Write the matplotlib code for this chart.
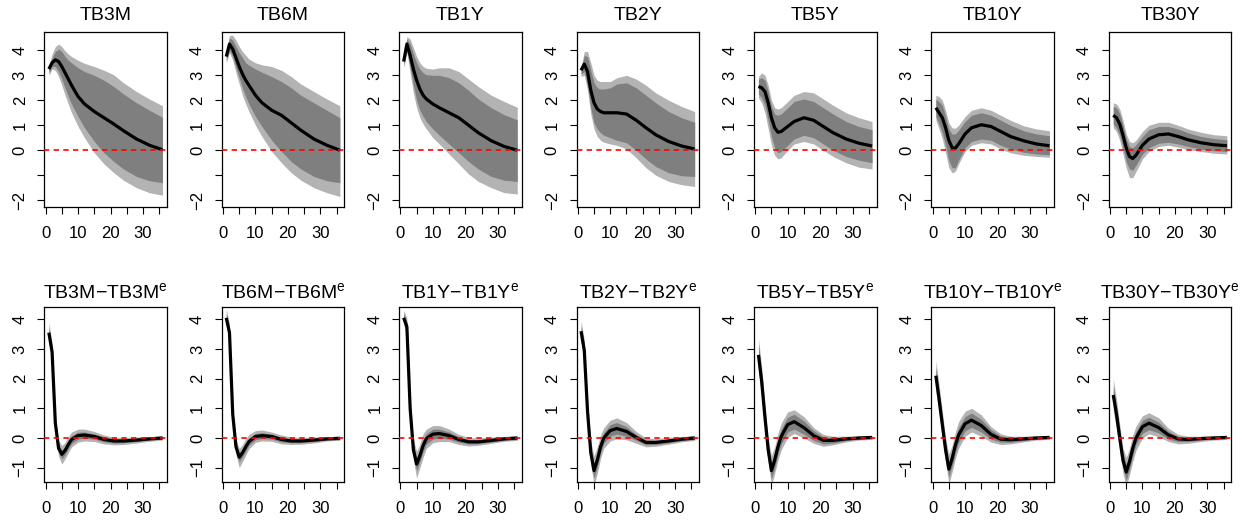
import matplotlib.pyplot as plt

plt.rcParams['font.family'] = ['Liberation Sans', 'DejaVu Sans']
plt.rcParams['mathtext.fontset'] = 'custom'
plt.rcParams['mathtext.rm'] = 'Liberation Sans'
plt.rcParams['mathtext.it'] = 'Liberation Sans:italic'

# impulse response horizon (months) at which responses are stored
lags = [1, 2, 3, 4, 5, 6, 7, 8, 10, 12, 15, 18, 21, 24, 28, 32, 36]

names = ["TB3M", "TB6M", "TB1Y", "TB2Y", "TB5Y", "TB10Y", "TB30Y"]

# --- responses of yield levels: median and 68% / 90% bands ---
level_mean = {
    "TB3M": [3.25, 3.5, 3.62, 3.55, 3.35, 3.1, 2.85, 2.6, 2.15, 1.85, 1.55, 1.3, 1.05, 0.78, 0.45, 0.2, 0.02],
    "TB6M": [3.75, 4.25, 4.05, 3.7, 3.35, 3.05, 2.8, 2.6, 2.2, 1.9, 1.6, 1.4, 1.1, 0.8, 0.45, 0.2, 0.0],
    "TB1Y": [3.55, 4.25, 3.8, 3.25, 2.8, 2.45, 2.2, 2.05, 1.85, 1.7, 1.5, 1.3, 1.0, 0.7, 0.38, 0.15, 0.0],
    "TB2Y": [3.2, 3.45, 3.15, 2.4, 1.9, 1.65, 1.55, 1.5, 1.5, 1.5, 1.45, 1.2, 0.9, 0.62, 0.35, 0.17, 0.05],
    "TB5Y": [2.55, 2.5, 2.35, 1.9, 1.3, 0.9, 0.72, 0.75, 0.95, 1.15, 1.3, 1.2, 0.95, 0.7, 0.45, 0.28, 0.17],
    "TB10Y": [1.7, 1.5, 1.3, 0.9, 0.4, 0.1, 0.08, 0.25, 0.65, 0.9, 1.02, 0.95, 0.75, 0.55, 0.38, 0.25, 0.18],
    "TB30Y": [1.4, 1.3, 1.05, 0.6, 0.1, -0.25, -0.33, -0.2, 0.2, 0.45, 0.62, 0.65, 0.55, 0.42, 0.3, 0.22, 0.18],
}
level_hi90 = {
    "TB3M": [3.4, 3.85, 4.15, 4.25, 4.15, 3.98, 3.85, 3.75, 3.6, 3.48, 3.35, 3.2, 3.02, 2.7, 2.35, 2.05, 1.78],
    "TB6M": [4.0, 4.6, 4.6, 4.4, 4.15, 3.95, 3.8, 3.65, 3.5, 3.42, 3.35, 3.2, 2.95, 2.65, 2.35, 2.05, 1.78],
    "TB1Y": [3.8, 4.55, 4.45, 4.1, 3.75, 3.5, 3.35, 3.28, 3.25, 3.3, 3.3, 3.15, 2.85, 2.55, 2.2, 1.95, 1.72],
    "TB2Y": [3.3, 3.95, 3.95, 3.5, 3.0, 2.8, 2.75, 2.75, 2.75, 2.9, 3.0, 2.85, 2.6, 2.3, 2.0, 1.75, 1.55],
    "TB5Y": [2.95, 3.1, 3.0, 2.6, 2.0, 1.7, 1.65, 1.7, 1.95, 2.2, 2.35, 2.3, 2.05, 1.8, 1.5, 1.3, 1.15],
    "TB10Y": [2.2, 2.15, 2.0, 1.6, 1.1, 0.9, 0.88, 1.0, 1.35, 1.6, 1.7, 1.6, 1.4, 1.2, 0.98, 0.85, 0.78],
    "TB30Y": [1.9, 1.85, 1.65, 1.2, 0.65, 0.35, 0.3, 0.4, 0.75, 1.0, 1.12, 1.12, 1.0, 0.85, 0.72, 0.62, 0.58],
}
level_hi68 = {
    "TB3M": [3.35, 3.7, 3.95, 4.05, 3.95, 3.75, 3.6, 3.5, 3.3, 3.15, 3.0, 2.8, 2.55, 2.25, 1.9, 1.6, 1.32],
    "TB6M": [3.9, 4.5, 4.4, 4.15, 3.9, 3.7, 3.5, 3.4, 3.25, 3.12, 2.95, 2.75, 2.5, 2.2, 1.9, 1.6, 1.3],
    "TB1Y": [3.7, 4.45, 4.25, 3.85, 3.5, 3.25, 3.1, 3.02, 3.0, 3.0, 2.9, 2.7, 2.4, 2.05, 1.7, 1.42, 1.22],
    "TB2Y": [3.25, 3.8, 3.75, 3.2, 2.7, 2.5, 2.45, 2.45, 2.5, 2.65, 2.7, 2.5, 2.2, 1.9, 1.55, 1.3, 1.12],
    "TB5Y": [2.85, 2.9, 2.8, 2.35, 1.75, 1.45, 1.4, 1.45, 1.7, 1.95, 2.05, 1.95, 1.7, 1.45, 1.15, 0.95, 0.82],
    "TB10Y": [2.05, 1.95, 1.8, 1.35, 0.85, 0.65, 0.65, 0.8, 1.15, 1.4, 1.5, 1.4, 1.2, 1.0, 0.78, 0.65, 0.58],
    "TB30Y": [1.75, 1.7, 1.45, 1.0, 0.45, 0.15, 0.1, 0.22, 0.55, 0.82, 0.95, 0.95, 0.85, 0.7, 0.55, 0.47, 0.42],
}
level_lo68 = {
    "TB3M": [3.1, 3.35, 3.35, 3.15, 2.85, 2.5, 2.15, 1.85, 1.35, 0.9, 0.35, -0.1, -0.45, -0.75, -1.05, -1.22, -1.3],
    "TB6M": [3.6, 4.0, 3.75, 3.3, 2.9, 2.5, 2.15, 1.85, 1.35, 0.95, 0.4, -0.05, -0.45, -0.75, -1.05, -1.22, -1.3],
    "TB1Y": [3.4, 4.0, 3.3, 2.6, 2.0, 1.6, 1.35, 1.15, 0.85, 0.6, 0.25, -0.1, -0.45, -0.75, -1.05, -1.2, -1.25],
    "TB2Y": [3.05, 3.15, 2.6, 1.7, 1.1, 0.85, 0.7, 0.6, 0.5, 0.4, 0.3, 0.0, -0.35, -0.65, -0.9, -1.02, -1.05],
    "TB5Y": [2.25, 2.1, 1.8, 1.2, 0.55, 0.1, -0.1, -0.05, 0.2, 0.45, 0.6, 0.5, 0.25, 0.0, -0.25, -0.4, -0.5],
    "TB10Y": [1.35, 1.05, 0.7, 0.2, -0.4, -0.7, -0.7, -0.4, 0.1, 0.35, 0.45, 0.4, 0.2, 0.05, -0.08, -0.15, -0.18],
    "TB30Y": [1.05, 0.9, 0.6, 0.1, -0.45, -0.75, -0.8, -0.6, -0.15, 0.1, 0.28, 0.32, 0.25, 0.15, 0.05, -0.02, -0.05],
}
level_lo90 = {
    "TB3M": [3.0, 3.25, 3.2, 2.95, 2.6, 2.2, 1.85, 1.5, 0.95, 0.5, -0.1, -0.55, -0.9, -1.2, -1.5, -1.7, -1.8],
    "TB6M": [3.5, 3.9, 3.6, 3.1, 2.65, 2.2, 1.85, 1.55, 1.0, 0.55, -0.05, -0.5, -0.9, -1.2, -1.5, -1.7, -1.85],
    "TB1Y": [3.3, 3.9, 3.1, 2.3, 1.7, 1.3, 1.05, 0.85, 0.5, 0.25, -0.15, -0.55, -0.95, -1.25, -1.5, -1.7, -1.75],
    "TB2Y": [2.95, 3.0, 2.4, 1.45, 0.85, 0.55, 0.4, 0.32, 0.25, 0.2, 0.05, -0.3, -0.7, -1.0, -1.25, -1.38, -1.45],
    "TB5Y": [2.1, 1.9, 1.5, 0.85, 0.2, -0.2, -0.35, -0.3, 0.0, 0.25, 0.35, 0.25, 0.0, -0.25, -0.5, -0.68, -0.75],
    "TB10Y": [1.2, 0.85, 0.45, -0.1, -0.7, -0.9, -0.85, -0.55, -0.05, 0.2, 0.3, 0.25, 0.05, -0.1, -0.2, -0.25, -0.28],
    "TB30Y": [0.9, 0.75, 0.4, -0.15, -0.7, -1.1, -1.1, -0.85, -0.35, -0.05, 0.15, 0.2, 0.12, 0.03, -0.05, -0.12, -0.15],
}

# --- responses of yield minus expected yield ---
spread_mean = {
    "TB3M": [3.55, 2.9, 0.5, -0.35, -0.55, -0.42, -0.22, -0.05, 0.08, 0.1, 0.05, -0.05, -0.1, -0.1, -0.07, -0.03, 0.0],
    "TB6M": [4.05, 3.55, 0.8, -0.3, -0.65, -0.5, -0.3, -0.12, 0.05, 0.08, 0.05, -0.05, -0.1, -0.1, -0.07, -0.03, -0.01],
    "TB1Y": [4.05, 3.75, 1.0, -0.4, -0.88, -0.6, -0.25, -0.02, 0.13, 0.15, 0.08, -0.05, -0.13, -0.13, -0.08, -0.03, 0.0],
    "TB2Y": [3.6, 2.95, 0.9, -0.5, -1.1, -0.75, -0.3, 0.0, 0.25, 0.32, 0.22, 0.02, -0.15, -0.15, -0.1, -0.04, 0.0],
    "TB5Y": [2.8, 1.9, 0.7, -0.4, -1.1, -0.75, -0.3, 0.05, 0.45, 0.55, 0.35, 0.08, -0.08, -0.08, -0.03, 0.0, 0.02],
    "TB10Y": [2.1, 1.3, 0.45, -0.4, -1.05, -0.7, -0.25, 0.1, 0.48, 0.6, 0.42, 0.12, -0.04, -0.06, -0.03, 0.0, 0.02],
    "TB30Y": [1.45, 0.8, 0.0, -0.75, -1.15, -0.8, -0.35, 0.0, 0.38, 0.5, 0.35, 0.1, -0.03, -0.05, -0.02, 0.0, 0.02],
}
spread_hi90 = {
    "TB3M": [3.9, 3.2, 0.75, -0.1, -0.25, -0.15, 0.05, 0.2, 0.3, 0.3, 0.22, 0.1, 0.02, 0.02, 0.03, 0.05, 0.07],
    "TB6M": [4.35, 3.85, 1.05, -0.05, -0.35, -0.22, -0.02, 0.12, 0.25, 0.27, 0.2, 0.1, 0.03, 0.02, 0.03, 0.04, 0.06],
    "TB1Y": [4.3, 4.05, 1.35, -0.05, -0.45, -0.2, 0.15, 0.3, 0.42, 0.42, 0.3, 0.12, 0.02, 0.0, 0.03, 0.05, 0.08],
    "TB2Y": [3.95, 3.3, 1.25, -0.1, -0.6, -0.3, 0.1, 0.35, 0.6, 0.68, 0.52, 0.22, 0.0, -0.02, 0.02, 0.05, 0.08],
    "TB5Y": [3.35, 2.4, 1.15, 0.0, -0.6, -0.3, 0.15, 0.5, 0.88, 0.95, 0.72, 0.35, 0.12, 0.06, 0.06, 0.07, 0.08],
    "TB10Y": [2.6, 1.8, 0.9, 0.0, -0.55, -0.25, 0.2, 0.55, 0.9, 1.0, 0.78, 0.38, 0.14, 0.06, 0.06, 0.07, 0.08],
    "TB30Y": [2.0, 1.3, 0.45, -0.35, -0.65, -0.35, 0.1, 0.4, 0.75, 0.85, 0.68, 0.33, 0.12, 0.06, 0.06, 0.07, 0.08],
}
spread_hi68 = {
    "TB3M": [3.75, 3.05, 0.62, -0.22, -0.4, -0.28, -0.08, 0.08, 0.2, 0.2, 0.14, 0.03, -0.04, -0.04, -0.02, 0.01, 0.04],
    "TB6M": [4.2, 3.7, 0.92, -0.17, -0.5, -0.36, -0.16, 0.0, 0.15, 0.18, 0.13, 0.03, -0.04, -0.04, -0.02, 0.01, 0.03],
    "TB1Y": [4.2, 3.9, 1.18, -0.22, -0.65, -0.4, -0.05, 0.15, 0.3, 0.3, 0.2, 0.04, -0.05, -0.06, -0.02, 0.01, 0.04],
    "TB2Y": [3.8, 3.15, 1.08, -0.3, -0.85, -0.52, -0.1, 0.18, 0.45, 0.52, 0.38, 0.12, -0.07, -0.08, -0.04, 0.01, 0.04],
    "TB5Y": [3.15, 2.2, 0.98, -0.18, -0.82, -0.5, -0.05, 0.3, 0.7, 0.8, 0.57, 0.25, 0.04, 0.01, 0.03, 0.04, 0.05],
    "TB10Y": [2.4, 1.6, 0.72, -0.18, -0.78, -0.45, 0.0, 0.35, 0.72, 0.84, 0.63, 0.28, 0.07, 0.02, 0.03, 0.04, 0.05],
    "TB30Y": [1.75, 1.1, 0.28, -0.52, -0.88, -0.55, -0.1, 0.22, 0.6, 0.7, 0.53, 0.23, 0.05, 0.01, 0.03, 0.04, 0.05],
}
spread_lo68 = {
    "TB3M": [3.35, 2.75, 0.38, -0.5, -0.7, -0.56, -0.36, -0.18, -0.04, 0.0, -0.04, -0.13, -0.17, -0.16, -0.12, -0.07, -0.04],
    "TB6M": [3.9, 3.4, 0.68, -0.43, -0.8, -0.64, -0.44, -0.24, -0.06, -0.02, -0.04, -0.13, -0.16, -0.16, -0.12, -0.07, -0.05],
    "TB1Y": [3.9, 3.6, 0.82, -0.58, -1.1, -0.8, -0.45, -0.2, -0.04, 0.0, -0.04, -0.14, -0.2, -0.19, -0.14, -0.08, -0.05],
    "TB2Y": [3.4, 2.75, 0.72, -0.7, -1.35, -0.98, -0.5, -0.18, 0.07, 0.13, 0.06, -0.08, -0.23, -0.22, -0.16, -0.09, -0.05],
    "TB5Y": [2.45, 1.6, 0.42, -0.62, -1.38, -1.0, -0.55, -0.2, 0.2, 0.3, 0.13, -0.08, -0.2, -0.17, -0.09, -0.04, -0.02],
    "TB10Y": [1.8, 1.0, 0.2, -0.62, -1.32, -0.95, -0.5, -0.15, 0.24, 0.36, 0.2, -0.04, -0.14, -0.14, -0.09, -0.04, -0.02],
    "TB30Y": [1.15, 0.5, -0.25, -0.98, -1.42, -1.05, -0.6, -0.22, 0.16, 0.28, 0.17, -0.04, -0.12, -0.12, -0.07, -0.04, -0.02],
}
spread_lo90 = {
    "TB3M": [3.2, 2.6, 0.25, -0.62, -0.88, -0.7, -0.5, -0.3, -0.14, -0.1, -0.12, -0.2, -0.23, -0.22, -0.17, -0.11, -0.07],
    "TB6M": [3.75, 3.25, 0.55, -0.56, -1.0, -0.8, -0.58, -0.36, -0.15, -0.1, -0.11, -0.2, -0.22, -0.21, -0.17, -0.1, -0.08],
    "TB1Y": [3.8, 3.45, 0.65, -0.75, -1.35, -1.0, -0.65, -0.35, -0.16, -0.12, -0.12, -0.22, -0.27, -0.25, -0.18, -0.11, -0.08],
    "TB2Y": [3.25, 2.6, 0.55, -0.9, -1.6, -1.2, -0.7, -0.35, -0.1, -0.03, -0.06, -0.18, -0.3, -0.28, -0.21, -0.13, -0.08],
    "TB5Y": [2.25, 1.4, 0.25, -0.8, -1.6, -1.2, -0.75, -0.4, 0.02, 0.15, 0.0, -0.18, -0.28, -0.23, -0.13, -0.07, -0.05],
    "TB10Y": [1.6, 0.8, 0.02, -0.8, -1.55, -1.15, -0.7, -0.35, 0.06, 0.2, 0.06, -0.14, -0.22, -0.2, -0.13, -0.07, -0.05],
    "TB30Y": [0.9, 0.3, -0.45, -1.2, -1.65, -1.25, -0.8, -0.42, 0.0, 0.14, 0.04, -0.12, -0.2, -0.18, -0.12, -0.07, -0.05],
}

W, H = 1246, 523
fig = plt.figure(figsize=(W / 100, H / 100), dpi=100)

# panel boxes in pixels
col_pitch, box_left, box_w, box_h = 177.4, 44.3, 122.7, 175.0
row_top = [31.7, 306.7]


def add_box(col, row):
    x0 = col * col_pitch + box_left
    y0 = row_top[row] + box_h
    return fig.add_axes([x0 / W, 1 - y0 / H, box_w / W, box_h / H])


def draw(ax, mean, lo90, hi90, lo68, hi68, ylim, yticks, ylabels, title, title_y):
    ax.fill_between(lags, lo90, hi90, color='#B3B3B3', lw=0, zorder=1)
    ax.fill_between(lags, lo68, hi68, color='#7F7F7F', lw=0, zorder=2)
    ax.plot(lags, mean, color='black', lw=2.3, zorder=3,
            solid_joinstyle='round', solid_capstyle='butt')
    ax.axhline(0, color='red', lw=1.2, ls=(0, (3.2, 2.6)), zorder=4)

    ax.set_xlim(-0.4, 37.4)
    ax.set_ylim(*ylim)
    ax.set_xticks(range(0, 36, 5))
    ax.set_xticklabels(['0', '', '10', '', '20', '', '30', ''])
    ax.set_yticks(yticks)
    ax.set_yticklabels(ylabels, rotation=90, va='center')
    ax.tick_params(direction='out', length=5, width=0.8, labelsize=12,
                   color='black')
    ax.tick_params(axis='x', pad=9)
    ax.tick_params(axis='y', pad=7)
    for s in ax.spines.values():
        s.set_linewidth(0.9)
    ax.text(0.5, title_y, title, transform=ax.transAxes, ha='center',
            va='baseline', fontsize=14)


for i, nm in enumerate(names):
    ax = add_box(i, 0)
    draw(ax, level_mean[nm], level_lo90[nm], level_hi90[nm],
         level_lo68[nm], level_hi68[nm], (-2.26, 4.745),
         [-2, -1, 0, 1, 2, 3, 4], ['\u22122', '', '0', '1', '2', '3', '4'],
         nm, 1.067)

    ax = add_box(i, 1)
    draw(ax, spread_mean[nm], spread_lo90[nm], spread_hi90[nm],
         spread_lo68[nm], spread_hi68[nm], (-1.473, 4.425),
         [-1, 0, 1, 2, 3, 4], ['\u22121', '0', '1', '2', '3', '4'],
         nm + '\u2212' + nm + r'$^{\mathrm{e}}$', 1.051)

fig.savefig('out.png', dpi=100)
